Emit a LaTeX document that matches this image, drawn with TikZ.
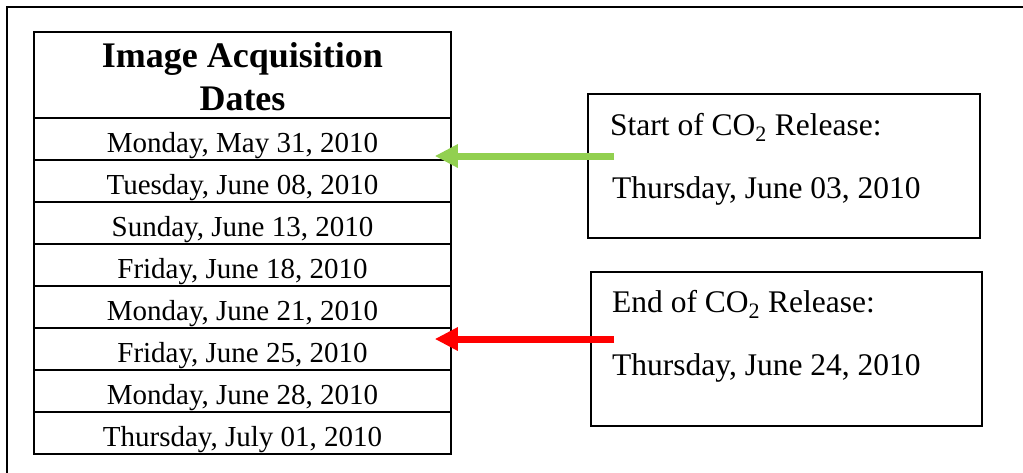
\documentclass[tikz,border=0pt]{standalone}
\usepackage{fontspec}
\setmainfont{Liberation Serif}
\usetikzlibrary{arrows.meta}
\definecolor{arrowgreen}{RGB}{146,208,80}
\definecolor{arrowred}{RGB}{255,0,0}
\tikzset{
  cell/.style={draw=black, line width=1.5pt, minimum width=417pt, minimum height=42pt, inner sep=0pt,
    text height=28pt, text depth=2pt, font=\fontsize{29}{34}\selectfont},
  head/.style={draw=black, line width=1.5pt, minimum width=417pt, minimum height=86pt, inner sep=0pt},
  headtext/.style={inner sep=0pt, align=center, font=\bfseries\fontsize{36}{43}\selectfont},
  infobox/.style={draw=black, line width=2pt, inner sep=0pt},
  boxtext/.style={anchor=base west, inner sep=0pt, font=\fontsize{31.5}{36}\selectfont},
  bigarrow/.style={line width=7pt, -{Triangle[length=23pt,width=22pt]}},
}
\begin{document}
\begin{tikzpicture}[x=1pt, y=-1pt]
\useasboundingbox (0,0) rectangle (1023,472);
\draw[line width=2pt] (7,480) -- (7,7) -- (1030,7);
% table
\node[head] (hd) at (242.5,75) {};
\node[headtext] (hdt) at (242.5,77) {Image Acquisition\\Dates};
\node[cell] (r1) at (242.5,139) {Monday, May 31, 2010};
\node[cell] (r2) at (242.5,181) {Tuesday, June 08, 2010};
\node[cell] (r3) at (242.5,223) {Sunday, June 13, 2010};
\node[cell] (r4) at (242.5,265) {Friday, June 18, 2010};
\node[cell] (r5) at (242.5,307) {Monday, June 21, 2010};
\node[cell] (r6) at (242.5,349) {Friday, June 25, 2010};
\node[cell] (r7) at (242.5,391) {Monday, June 28, 2010};
\node[cell] (r8) at (242.5,433) {Thursday, July 01, 2010};
% boxes
\node[infobox, minimum width=392pt, minimum height=144pt] (b1) at (784,166) {};
\node[boxtext] (b1a) at (610,135) {Start of CO\textsubscript{2} Release:};
\node[boxtext] (b1b) at (612,198) {Thursday, June 03, 2010};
\node[infobox, minimum width=391pt, minimum height=154pt] (b2) at (786.5,349) {};
\node[boxtext] (b2a) at (612,312) {End of CO\textsubscript{2} Release:};
\node[boxtext] (b2b) at (612,375) {Thursday, June 24, 2010};
% arrows
\coordinate (gs) at ([xshift=27pt]b1.west |- 0,156);
\coordinate (ge) at ([xshift=-17pt]r1.east |- 0,156);
\coordinate (rs) at ([xshift=24pt]b2.west |- 0,339);
\coordinate (re) at ([xshift=-17pt]r6.east |- 0,339);
\draw[bigarrow, draw=arrowgreen, fill=arrowgreen] (gs) -- (ge);
\draw[bigarrow, draw=arrowred, fill=arrowred] (rs) -- (re);
\end{tikzpicture}
\end{document}
